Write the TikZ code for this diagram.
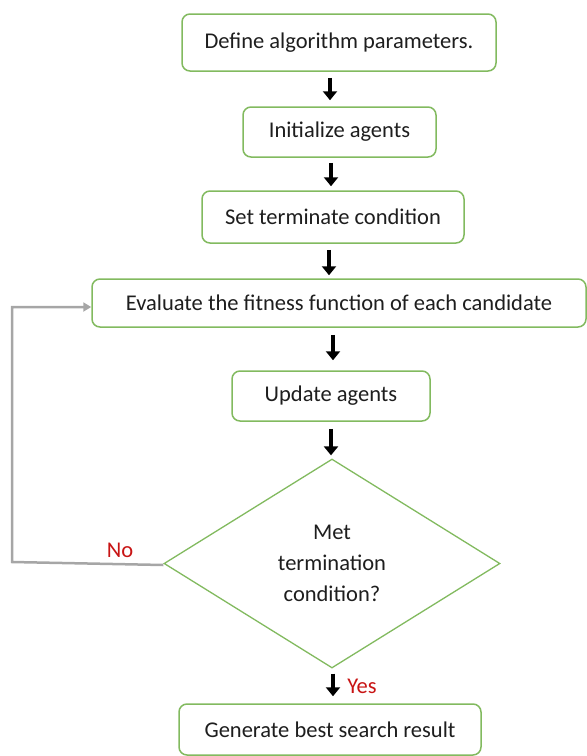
\documentclass[tikz,border=0pt]{standalone}
\usepackage{fontspec}
\setmainfont{Carlito}
\usetikzlibrary{shapes.geometric,arrows.meta}

\definecolor{boxgreen}{RGB}{130,186,95}
\definecolor{ink}{RGB}{30,30,30}
\definecolor{loopgray}{RGB}{166,166,166}
\definecolor{labelred}{RGB}{200,20,20}

\tikzset{
  x=1pt, y=-1pt,
  every node/.style={font=\fontsize{22.5}{31}\selectfont, text=ink},
  stepbox/.style={draw=boxgreen, line width=1.5pt, rounded corners=8pt,
    fill=white, align=center, inner sep=0pt},
  decision/.style={draw=boxgreen, line width=1.3pt, diamond, inner sep=0pt,
    align=center, fill=white},
  flow/.style={draw=black, line width=4.5pt,
    -{Triangle[width=14pt,length=9pt]}},
  back/.style={draw=loopgray, line width=2.5pt,
    -{Triangle[width=9pt,length=8pt]}},
  answer/.style={text=labelred}
}

\begin{document}
\begin{tikzpicture}
  \useasboundingbox (0,0) rectangle (587,756);

  % process steps
  \node[stepbox, minimum width=314pt, minimum height=57pt] (define) at (339,42.5)
    {Define algorithm parameters.};
  \node[stepbox, minimum width=193pt, minimum height=50pt] (init) at (339.5,132)
    {Initialize agents};
  \node[stepbox, minimum width=262pt, minimum height=52pt] (term) at (333,217)
    {Set terminate condition};
  \node[stepbox, minimum width=494pt, minimum height=48pt] (eval) at (339,303)
    {Evaluate the fitness function of each candidate};
  \node[stepbox, minimum width=198pt, minimum height=50pt] (update) at (331,396)
    {Update agents};
  \node[decision, minimum width=336pt, minimum height=209pt] (check) at (332,563.5)
    {Met\\termination\\condition?};
  \node[stepbox, minimum width=302pt, minimum height=51pt] (result) at (330,729.5)
    {Generate best search result};

  % downward flow
  \draw[flow, shorten <=6pt, shorten >=6pt]
    ([xshift=-9pt]define.south) -- ([xshift=-9.5pt]init.north);
  \draw[flow, shorten <=5pt, shorten >=4pt]
    ([xshift=-8.5pt]init.south) -- ([xshift=-2pt]term.north);
  \draw[flow, shorten <=6pt, shorten >=3pt]
    ([xshift=-4pt]term.south) -- ([xshift=-10pt]eval.north);
  \draw[flow, shorten <=7pt, shorten >=10pt]
    ([xshift=-6pt]eval.south) -- ([xshift=2pt]update.north);
  \draw[flow, shorten <=7pt, shorten >=3pt]
    (update.south) -- ([xshift=-1pt]check.north);
  \draw[flow, shorten <=5pt, shorten >=7pt]
    ([xshift=1pt]check.south) -- ([xshift=3pt]result.north);

  % loop back when the condition is not met
  \coordinate (turn) at (12,562);
  \draw[back] ([yshift=-1.5pt]check.west) -- (turn) |- ([yshift=-4pt]eval.west);

  % branch labels
  \node[answer] (no) at (120,550) {No};
  \node[answer] (yes) at (362,686) {Yes};
\end{tikzpicture}
\end{document}
